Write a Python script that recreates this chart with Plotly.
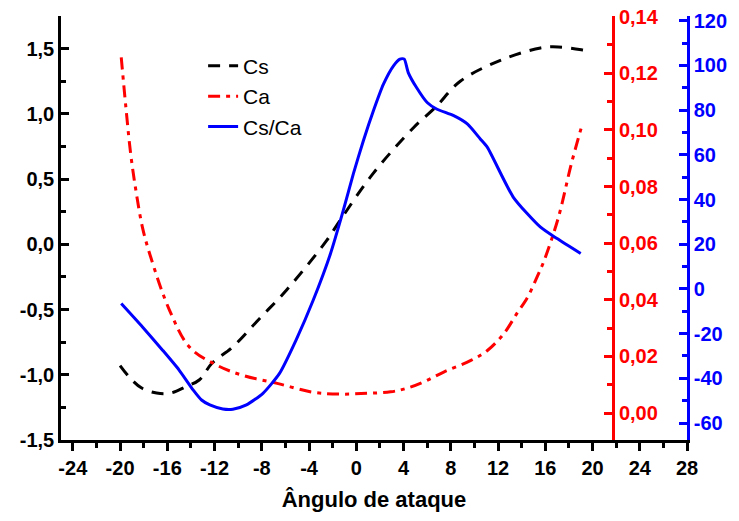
import plotly.graph_objects as go

# Cs (left axis)
cs_angle = [-20, -19.2, -18.2, -16.9, -15.7, -14.4, -13.3, -12.2, -10.5, -8.2, -5.9,
            -2.5, -1.4, 1.4, 4.8, 6.7, 8.8, 12.2, 15.6, 17.1, 19.2, 19.5]
cs_values = [-0.93, -1.02, -1.10, -1.14, -1.14, -1.09, -1.04, -0.91, -0.79, -0.57, -0.35,
             0.03, 0.18, 0.54, 0.89, 1.05, 1.25, 1.41, 1.505, 1.513, 1.49, 1.485]

# Ca (red axis)
ca_angle = [-19.9, -19.5, -19.1, -18.65, -18.1, -17.4, -15.8, -14.1, -11.8, -9.6, -6.7,
            -3.7, -1.4, 0.9, 2.9, 4.3, 5.7, 7.4, 9.7, 11.1, 12.5, 13.6, 14.5, 15.3,
            15.9, 17.1, 18.2, 19.1]
ca_values = [0.1256, 0.1077, 0.0915, 0.0784, 0.0655, 0.0550, 0.0362, 0.0232, 0.0169,
             0.0133, 0.0105, 0.0074, 0.0067, 0.0070, 0.0075, 0.0088, 0.0110, 0.0145,
             0.0186, 0.0221, 0.0281, 0.0352, 0.0409, 0.0480, 0.0538, 0.0689, 0.0879,
             0.1015]

# Cs/Ca (blue axis)
ratio_angle = [-19.9, -18.1, -16.4, -15.0, -13.8, -13.1, -12.4, -11.3, -10.45, -9.3,
               -7.9, -6.5, -5.1, -3.65, -2.2, -1.1, -0.25, 0.6, 1.45, 2.3, 3.15, 3.7,
               4.06, 4.4, 5.1, 6.0, 6.8, 8.25, 9.4, 10.5, 11.1, 13.3, 15.6, 17.0, 19.0]
ratio_values = [-6.5, -17.0, -27.4, -36.3, -45.3, -49.7, -51.9, -53.7, -53.8, -51.9,
                -46.7, -37.8, -22.9, -5.1, 15.5, 35.1, 51.5, 66.3, 79.7, 91.6, 99.8,
                102.8, 102.8, 96.8, 90.1, 83.4, 80.5, 77.5, 73.8, 67.1, 63.3, 41.0,
                27.6, 22.5, 15.8]

x_ticks = [-24, -20, -16, -12, -8, -4, 0, 4, 8, 12, 16, 20, 24, 28]
x_labels = ["-24", "-20", "-16", "-12", "-8", "-4", "0", "4", "8", "12", "16", "20", "24", "28"]
cs_ticks = [-1.5, -1.0, -0.5, 0.0, 0.5, 1.0, 1.5]
cs_labels = ["-1,5", "-1,0", "-0,5", "0,0", "0,5", "1,0", "1,5"]
ca_ticks = [0.0, 0.02, 0.04, 0.06, 0.08, 0.10, 0.12, 0.14]
ca_labels = ["0,00", "0,02", "0,04", "0,06", "0,08", "0,10", "0,12", "0,14"]
ratio_ticks = [-60, -40, -20, 0, 20, 40, 60, 80, 100, 120]
ratio_labels = ["-60", "-40", "-20", "0", "20", "40", "60", "80", "100", "120"]

FONT = "Liberation Sans, Arial, sans-serif"
tick_font = dict(family=FONT, size=20, weight="bold")

fig = go.Figure()
fig.add_trace(go.Scatter(x=cs_angle, y=cs_values, name="Cs", mode="lines",
                         line=dict(color="#000000", width=3, dash="12px,9px", shape="spline")))
fig.add_trace(go.Scatter(x=ca_angle, y=ca_values, name="Ca", mode="lines", yaxis="y2",
                         line=dict(color="#ff0000", width=3, dash="12px,6px,4px,6px", shape="spline")))
fig.add_trace(go.Scatter(x=ratio_angle, y=ratio_values, name="Cs/Ca", mode="lines", yaxis="y3",
                         line=dict(color="#0000ff", width=3, shape="spline", smoothing=0.6)))

axis_common = dict(showgrid=False, zeroline=False, showline=True, linewidth=2.5,
                   ticklen=8, tickwidth=2.5, automargin=False, ticklabeloverflow="allow")

fig.update_layout(
    width=739, height=521,
    margin=dict(l=61, r=52, t=16, b=81),
    plot_bgcolor="white", paper_bgcolor="white",
    font=dict(family=FONT, color="black"),
    xaxis=dict(range=[-25, 28], tickmode="array", tickvals=x_ticks, ticktext=x_labels,
               ticks="outside", tickfont=tick_font, linecolor="black", tickcolor="black",
               minor=dict(ticks="outside", dtick=2, tick0=0, ticklen=5, tickwidth=2.5, tickcolor="black"),
               title=dict(text="Ângulo de ataque", font=dict(family=FONT, size=22, weight="bold"), standoff=14),
               **axis_common),
    yaxis=dict(range=[-1.5, 1.75], tickmode="array", tickvals=cs_ticks, ticktext=cs_labels,
               ticks="inside", tickfont=tick_font, linecolor="black", tickcolor="black",
               minor=dict(ticks="inside", dtick=0.25, tick0=0, ticklen=5, tickwidth=2.5, tickcolor="black"),
               **axis_common),
    yaxis2=dict(range=[-0.0095, 0.1402], overlaying="y", anchor="free", position=0.882, side="right",
                tickmode="array", tickvals=ca_ticks, ticktext=ca_labels,
                ticks="inside", tickfont=dict(tick_font, color="#ff0000"),
                linecolor="#ff0000", tickcolor="#ff0000",
                minor=dict(ticks="inside", dtick=0.01, tick0=0, ticklen=5, tickwidth=2.5, tickcolor="#ff0000"),
                **axis_common),
    yaxis3=dict(range=[-67.6, 122.1], overlaying="y", anchor="x", side="right",
                tickmode="array", tickvals=ratio_ticks, ticktext=ratio_labels,
                ticks="inside", tickfont=dict(tick_font, color="#0000ff"),
                linecolor="#0000ff", tickcolor="#0000ff",
                minor=dict(ticks="inside", dtick=10, tick0=0, ticklen=5, tickwidth=2.5, tickcolor="#0000ff"),
                **axis_common),
    legend=dict(x=0.227, y=0.93, xanchor="left", yanchor="top", bgcolor="rgba(0,0,0,0)",
                font=dict(family=FONT, size=21), tracegroupgap=0),
)

# drop the default 8px body margin so the figure sits at the window's corner
fig.write_html("out.html", config={"displayModeBar": False},
               post_script="document.body.style.margin = '0';")
